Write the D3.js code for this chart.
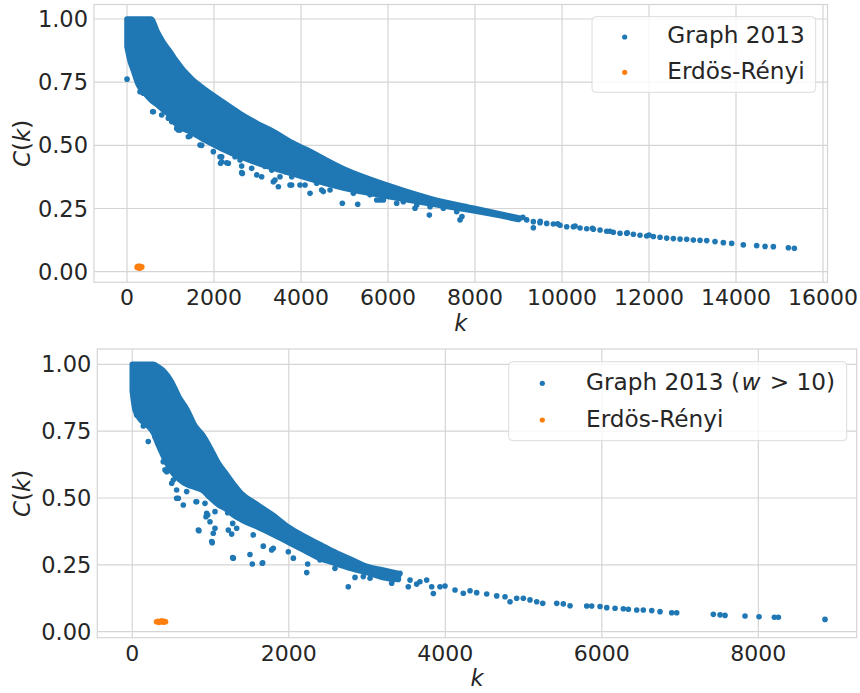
<!DOCTYPE html>
<html>
<head>
<meta charset="utf-8">
<script src="https://cdn.jsdelivr.net/npm/d3@7/dist/d3.min.js"></script>
<style>
  body { margin: 0; background: #fff; }
  text { font-family: "DejaVu Sans", sans-serif; fill: #262626; }
</style>
</head>
<body>
<svg id="chart" width="860" height="693"></svg>
<script>
// ---- top panel: Graph 2013 ----
// dense part of the cloud, read as upper / lower edge of the band
var topBandK  = [0, 70, 150, 260, 414, 550, 700, 834, 1000, 1100, 1500, 1800, 2200, 2600, 3000, 3400, 3800, 4100, 5000, 6000, 7000, 8000, 9000];
var topBandHi = [1.0, 1.0, 1.0, 1.0, 1.0, 1.0, 0.947, 0.907, 0.868, 0.841, 0.76, 0.72, 0.672, 0.626, 0.586, 0.551, 0.51, 0.485, 0.405, 0.341, 0.288, 0.25, 0.213];
var topBandLo = [0.89, 0.835, 0.795, 0.74, 0.705, 0.68, 0.66, 0.64, 0.615, 0.59, 0.55, 0.52, 0.485, 0.455, 0.43, 0.408, 0.388, 0.372, 0.33, 0.298, 0.268, 0.24, 0.207];
// single points (droplets under the band, outliers and the sparse tail)
var topDotK = [0, 375, 590, 797, 1027, 1142, 1218, 1448, 1678, 1717, 2138, 2150, 2329, 2598, 2651, 2981, 3096, 3363, 3479, 3785,
  4207, 4475, 4513, 4950, 5303, 5740, 5816, 6199, 6621, 6950, 7655, 7700, 9341,
  299, 605, 950, 1180, 1410, 1985, 2176, 2176, 2291, 2483, 2636, 2636, 2866, 3172, 3326, 3517, 3632, 3747, 3786, 3977, 3938,
  3402, 4092, 4361, 4667, 5011, 5203, 5586, 5893, 6352, 6660, 6966, 7272, 7579,
  9034, 9188, 9341, 9494, 9648, 9801, 9954, 10107, 10261, 10414, 10567, 10720, 10874, 11027, 11180, 11333, 11487, 11640,
  11793, 11946, 12100, 12253, 12406, 12559, 12713, 12866, 13019, 13172, 13326, 13517, 13709, 13900, 14168, 14475, 14667,
  14858, 15203, 15341, 9100, 9500, 9900, 10300, 10700, 11100, 11500, 12000];
var topDotC = [0.762, 0.706, 0.633, 0.62, 0.594, 0.567, 0.561, 0.537, 0.501, 0.50, 0.455, 0.429, 0.429, 0.442, 0.389, 0.383, 0.376, 0.356, 0.336, 0.343,
  0.310, 0.323, 0.317, 0.271, 0.267, 0.284, 0.284, 0.271, 0.251, 0.224, 0.205, 0.218, 0.174,
  0.712, 0.633, 0.607, 0.561, 0.534, 0.475, 0.455, 0.435, 0.431, 0.455, 0.418, 0.392, 0.409, 0.416, 0.402, 0.376, 0.396, 0.343, 0.376, 0.343, 0.389,
  0.363, 0.343, 0.350, 0.323, 0.330, 0.310, 0.304, 0.284, 0.277, 0.264, 0.257, 0.251, 0.237,
  0.211, 0.205, 0.198, 0.194, 0.191, 0.189, 0.184, 0.178, 0.178, 0.173, 0.170, 0.168, 0.165, 0.160, 0.156, 0.152, 0.152, 0.148,
  0.144, 0.141, 0.139, 0.136, 0.133, 0.131, 0.129, 0.128, 0.125, 0.124, 0.123, 0.119, 0.115, 0.112, 0.106, 0.103, 0.100,
  0.099, 0.095, 0.0925, 0.215, 0.199, 0.190, 0.181, 0.172, 0.160, 0.154, 0.145];
var topErK = [232, 250, 268, 285, 300, 318, 340, 255, 290, 310];
var topErC = [0.018, 0.016, 0.020, 0.017, 0.021, 0.018, 0.019, 0.021, 0.015, 0.016];
var topXTicks = [0, 2000, 4000, 6000, 8000, 10000, 12000, 14000, 16000];

// ---- bottom panel: Graph 2013 (w > 10) ----
var botBandK  = [0, 35, 100, 200, 268, 330, 400, 500, 600, 700, 800, 900, 1000, 1100, 1200, 1300, 1400, 1600, 1800, 2000, 2200, 2400, 2600, 2800, 3000, 3200, 3400];
var botBandHi = [1.0, 1.0, 1.0, 1.0, 1.0, 0.99, 0.975, 0.935, 0.875, 0.83, 0.77, 0.735, 0.685, 0.63, 0.59, 0.55, 0.515, 0.475, 0.435, 0.39, 0.356, 0.326, 0.296, 0.27, 0.244, 0.231, 0.218];
var botBandLo = [0.90, 0.83, 0.795, 0.77, 0.745, 0.70, 0.655, 0.60, 0.57, 0.55, 0.54, 0.528, 0.50, 0.475, 0.458, 0.435, 0.418, 0.392, 0.364, 0.334, 0.304, 0.274, 0.255, 0.236, 0.221, 0.203, 0.195];
var botDotK = [77, 56, 141, 204, 290, 354, 396, 418, 524, 567, 652, 567, 695, 823, 844, 929, 951, 993, 1015, 1035, 1057,
  1227, 1270, 1291, 1334, 1504, 1534, 1661, 1546, 1674, 1781, 1994, 2058, 2229, 2399, 2590, 2760, 2846, 2952, 3038,
  3187, 3315, 3527, 3634, 1283, 1666, 1802, 2241,
  440, 504, 588, 964, 1057, 852, 1022, 1219, 1283, 942, 814,
  3421, 3549, 3676, 3762, 3826, 3847, 3932, 3996, 4124, 4230, 4316, 4401, 4529, 4657, 4763, 4827, 4912, 4997, 5082,
  5168, 5245, 5424, 5508, 5594, 5807, 5871, 5977, 6063, 6169, 6275, 6339, 6446, 6530, 6638, 6744, 6893, 6957, 7425,
  7511, 7574, 7830, 8009, 8205, 8256, 8852];
var botDotC = [0.842, 0.810, 0.769, 0.711, 0.729, 0.692, 0.636, 0.605, 0.567, 0.530, 0.474, 0.499, 0.524, 0.486, 0.380, 0.480, 0.443, 0.411, 0.337, 0.368, 0.449,
  0.380, 0.365, 0.275, 0.387, 0.289, 0.253, 0.256, 0.362, 0.320, 0.306, 0.299, 0.275, 0.221, 0.268, 0.237, 0.168, 0.203, 0.206, 0.200,
  0.208, 0.181, 0.168, 0.178, 0.277, 0.258, 0.312, 0.253,
  0.598, 0.555, 0.499, 0.436, 0.387, 0.378, 0.333, 0.445, 0.405, 0.430, 0.486,
  0.218, 0.193, 0.187, 0.193, 0.168, 0.143, 0.168, 0.171, 0.156, 0.144, 0.153, 0.146, 0.141, 0.134, 0.131, 0.112, 0.125, 0.125, 0.119,
  0.112, 0.106, 0.106, 0.104, 0.097, 0.096, 0.096, 0.094, 0.090, 0.088, 0.086, 0.084, 0.081, 0.081, 0.079, 0.075, 0.071, 0.071, 0.065,
  0.063, 0.061, 0.059, 0.056, 0.054, 0.054, 0.046];
var botErK = [310, 330, 350, 370, 390, 410, 425, 340, 380, 400];
var botErC = [0.037, 0.039, 0.036, 0.040, 0.037, 0.039, 0.037, 0.035, 0.040, 0.036];
var botXTicks = [0, 2000, 4000, 6000, 8000];

var yTicks = [0, 0.25, 0.5, 0.75, 1.0];
var legendTop = ["Graph 2013", "Erdös-Rényi"];
var legendBot = ["Graph 2013 (", "Erdös-Rényi"];

var blue = "#1f77b4", orange = "#ff7f0e", gridCol = "#d5d5d5";
var dotR = 2.8;

var svg = d3.select("#chart");

function drawPanel(p) {
  var x = d3.scaleLinear().domain(p.xDom).range([p.left, p.right]);
  var y = d3.scaleLinear().domain(p.yDom).range([p.bottom, p.top]);
  var g = svg.append("g");

  // grid
  g.selectAll(".gx").data(p.xTicks).enter().append("line")
    .attr("x1", function(d) { return x(d); }).attr("x2", function(d) { return x(d); })
    .attr("y1", p.top).attr("y2", p.bottom)
    .attr("stroke", gridCol).attr("stroke-width", 1.2);
  g.selectAll(".gy").data(yTicks).enter().append("line")
    .attr("y1", function(d) { return y(d); }).attr("y2", function(d) { return y(d); })
    .attr("x1", p.left).attr("x2", p.right)
    .attr("stroke", gridCol).attr("stroke-width", 1.2);

  // tick labels
  g.selectAll(".tx").data(p.xTicks).enter().append("text")
    .attr("x", function(d) { return x(d); }).attr("y", p.bottom + 23)
    .attr("text-anchor", "middle").style("font-size", "22px")
    .text(function(d) { return d; });
  g.selectAll(".ty").data(yTicks).enter().append("text")
    .attr("x", p.left - 6).attr("y", function(d) { return y(d) + 8; })
    .attr("text-anchor", "end").style("font-size", "22.5px")
    .text(function(d) { return d3.format(".2f")(d); });

  // axis labels
  g.append("text").attr("x", (p.left + p.right) / 2).attr("y", p.bottom + 48.5)
    .attr("text-anchor", "middle").style("font-size", "22.5px").style("font-style", "italic").text("k");
  var yl = g.append("text")
    .attr("transform", "translate(30," + ((p.top + p.bottom) / 2) + ") rotate(-90)")
    .attr("text-anchor", "middle").style("font-size", "23px");
  yl.append("tspan").style("font-style", "italic").text("C");
  yl.append("tspan").text("(");
  yl.append("tspan").style("font-style", "italic").text("k");
  yl.append("tspan").text(")");

  // band of overlapping points
  var band = p.bandK.map(function(k, i) { return {k: k, hi: p.bandHi[i], lo: p.bandLo[i]}; });
  var area = d3.area().curve(d3.curveMonotoneX)
    .x(function(d) { return x(d.k); })
    .y0(function(d) { return y(d.lo); })
    .y1(function(d) { return y(d.hi); });
  g.append("path").datum(band).attr("d", area)
    .attr("fill", blue).attr("stroke", blue)
    .attr("stroke-width", dotR * 2).attr("stroke-linejoin", "round");

  g.selectAll(".dot").data(p.dotK).enter().append("circle")
    .attr("cx", function(d) { return x(d); })
    .attr("cy", function(d, i) { return y(p.dotC[i]); })
    .attr("r", dotR).attr("fill", blue);
  g.selectAll(".er").data(p.erK).enter().append("circle")
    .attr("cx", function(d) { return x(d); })
    .attr("cy", function(d, i) { return y(p.erC[i]); })
    .attr("r", dotR).attr("fill", orange);

  // frame
  g.append("rect").attr("x", p.left).attr("y", p.top)
    .attr("width", p.right - p.left).attr("height", p.bottom - p.top)
    .attr("fill", "none").attr("stroke", gridCol).attr("stroke-width", 1.2);

  // legend
  var L = p.legend;
  g.append("rect").attr("x", L.x).attr("y", L.y).attr("width", L.w).attr("height", L.h)
    .attr("rx", 4).attr("fill", "#fff").attr("fill-opacity", 0.8)
    .attr("stroke", "#dcdcdc").attr("stroke-width", 1);
  [blue, orange].forEach(function(c, i) {
    g.append("circle").attr("cx", L.mx).attr("cy", L.my[i]).attr("r", 2.6).attr("fill", c);
    var t = g.append("text").attr("x", L.tx).attr("y", L.ty[i]).style("font-size", "23.2px");
    t.append("tspan").text(p.labels[i]);
    if (i === 0 && p.wLabel) {
      t.append("tspan").attr("dx", 1.5).style("font-style", "italic").text("w");
      t.append("tspan").attr("dx", 2).text(" >");
      t.append("tspan").text(" 10)");
    }
  });
}

drawPanel({
  left: 94, right: 827.5, top: 4.5, bottom: 282.3,
  xDom: [-759, 16103], yDom: [-0.042, 1.0574],
  xTicks: topXTicks,
  bandK: topBandK, bandHi: topBandHi, bandLo: topBandLo,
  dotK: topDotK, dotC: topDotC, erK: topErK, erC: topErC,
  labels: legendTop, wLabel: false,
  legend: {x: 592, y: 16.7, w: 223.7, h: 75.6, mx: 624.7, my: [37, 72.3], tx: 667.3, ty: [43.3, 79]}
});

drawPanel({
  left: 97.3, right: 856.7, top: 349, bottom: 637.7,
  xDom: [-447, 9257], yDom: [-0.0224, 1.0572],
  xTicks: botXTicks,
  bandK: botBandK, bandHi: botBandHi, bandLo: botBandLo,
  dotK: botDotK, dotC: botDotC, erK: botErK, erC: botErC,
  labels: legendBot, wLabel: true,
  legend: {x: 508.7, y: 361.7, w: 338, h: 79, mx: 542.3, my: [383.3, 420], tx: 586, ty: [390, 427]}
});
</script>
</body>
</html>
